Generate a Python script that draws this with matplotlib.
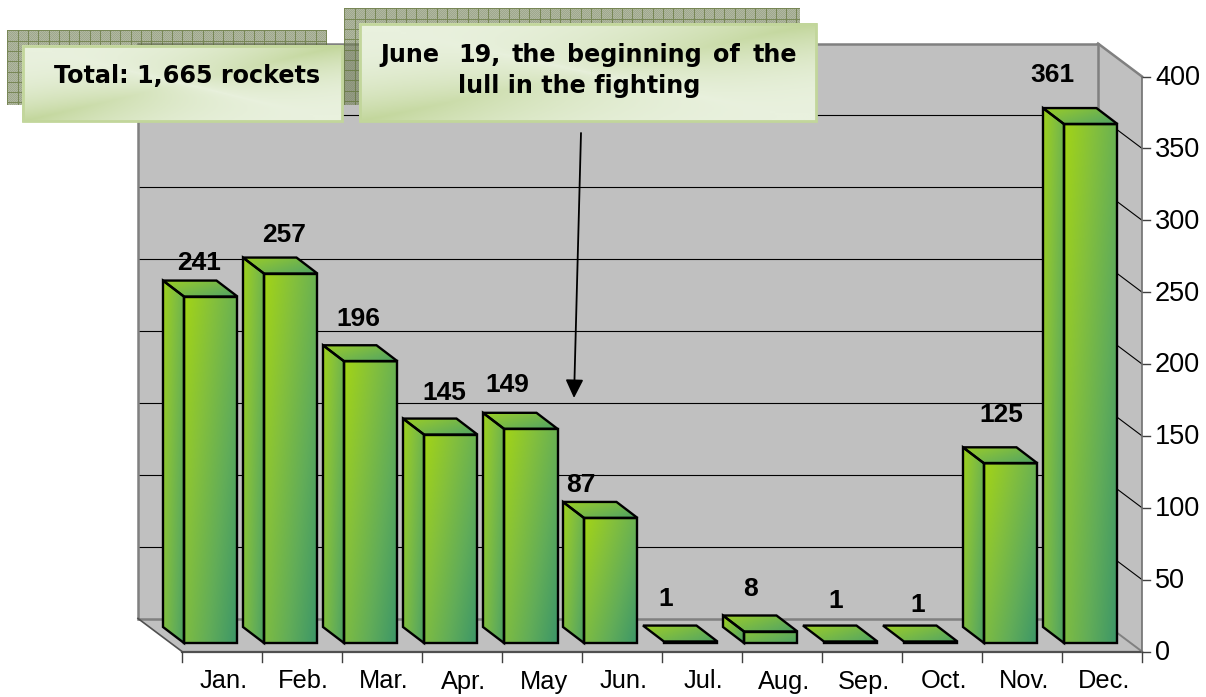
# -*- coding: utf-8 -*-
import numpy as np
import matplotlib
matplotlib.use('Agg')
import matplotlib.pyplot as plt
from matplotlib.colors import LinearSegmentedColormap
from matplotlib.patches import Polygon, Rectangle

months = ['Jan.', 'Feb.', 'Mar.', 'Apr.', 'May', 'Jun.', 'Jul.', 'Aug.', 'Sep.', 'Oct.', 'Nov.', 'Dec.']
rockets = [241, 257, 196, 145, 149, 87, 1, 8, 1, 1, 125, 361]
y_ticks = [0, 50, 100, 150, 200, 250, 300, 350, 400]

# the value labels were moved by hand in the original, so pixel positions
label_x = [199, 284, 358, 444, 507, 581, 666, 751, 836, 918, 1001, 1052]
label_y = [260, 233, 317, 390, 382, 483, 596, 586, 598, 603, 412, 72]

W, H = 1206, 697
X0, Y0 = 182, 651.5      # pixel of category edge 0, value 0
PX_CAT, PX_VAL = 80.0, 1.4375
DX, DY = -44 / PX_CAT, 33 / PX_VAL    # wall depth in data units
BAR_L, BAR_W = 2 / PX_CAT, 53.5 / PX_CAT
BAR_BASE = 8.5 / PX_VAL
BAR_DX, BAR_DY = -21 / PX_CAT, 16 / PX_VAL

plt.rcParams['font.family'] = ['Liberation Sans', 'DejaVu Sans']
fig = plt.figure(figsize=(W / 100, H / 100), dpi=100)
ax = fig.add_axes([0, 0, 1, 1])
ax.axis('off')
xlim = (-X0 / PX_CAT, (W - X0) / PX_CAT)
ylim = ((Y0 - H) / PX_VAL, Y0 / PX_VAL)

bar_cmap = LinearSegmentedColormap.from_list('bar', ['#a2d416', '#84c03c', '#62ad58', '#3c9668'])


def grad_poly(a, pts, cmap, vmin=0.0, vmax=1.0, z=3, lw=1.7):
    pts = np.array(pts)
    x0, x1 = pts[:, 0].min(), pts[:, 0].max()
    y0, y1 = pts[:, 1].min(), pts[:, 1].max()
    u, v = np.meshgrid(np.linspace(0, 1, 64), np.linspace(0, 1, 64))
    im = a.imshow(vmin + (vmax - vmin) * (0.6 * u + 0.4 * v), extent=(x0, x1, y0, y1),
                  origin='upper', aspect='auto', cmap=cmap, vmin=0, vmax=1, zorder=z, interpolation='bilinear')
    p = Polygon(pts, closed=True, fc='none', ec='black', lw=lw, joinstyle='miter', zorder=z + 0.1)
    a.add_patch(p)
    im.set_clip_path(p)


# walls and floor
wall = '#c0c0c0'
edge = '#808080'
x_end = len(months)
ax.add_patch(Polygon([(DX, DY), (x_end + DX, DY), (x_end + DX, 400 + DY), (DX, 400 + DY)],
                     fc=wall, ec='none', zorder=1))
ax.add_patch(Polygon([(DX, DY), (x_end + DX, DY), (x_end, 0), (0, 0)], fc=wall, ec='none', zorder=1))
ax.add_patch(Polygon([(x_end + DX, DY), (x_end + DX, 400 + DY), (x_end, 400), (x_end, 0)], fc=wall, ec='none', zorder=1))

for v in y_ticks:
    col, lw = ('black', 0.8) if 0 < v < 400 else (edge, 1.8)
    ax.plot([DX, x_end + DX], [v + DY, v + DY], color=col, lw=lw, zorder=1.5, solid_capstyle='butt')
    ax.plot([x_end + DX, x_end], [v + DY, v], color=col, lw=lw if v else 1.4, zorder=1.5)
    ax.plot([x_end, x_end + 8 / PX_CAT], [v, v], color='#404040', lw=1, zorder=2)
    ax.text(x_end + 13 / PX_CAT, v + 1.5 / PX_VAL, str(v), fontsize=19.5, color='black',
            ha='left', va='center_baseline', zorder=6)

ax.plot([DX, DX], [DY, 400 + DY], color=edge, lw=1.8, zorder=1.6)
ax.plot([x_end + DX, x_end + DX], [DY, 400 + DY], color=edge, lw=1.8, zorder=1.6)
ax.plot([DX, 0], [DY, 0], color='#505050', lw=1.2, zorder=1.6)
ax.plot([0, x_end], [0, 0], color='#505050', lw=1.6, zorder=2)
ax.plot([x_end, x_end], [0, 400], color='#707070', lw=1.2, zorder=2)

for i, name in enumerate(months):
    ax.plot([i, i], [0, -10 / PX_VAL], color='#404040', lw=1, zorder=2)
    ax.text(i + 0.52, -37 / PX_VAL, name, fontsize=18.3, ha='center', va='baseline', zorder=6)
ax.plot([x_end, x_end], [0, -10 / PX_VAL], color='#404040', lw=1, zorder=2)

# bars, painted from the back edge forwards
for i, val in enumerate(rockets):
    l, r = i + BAR_L, i + BAR_L + BAR_W
    b, t = BAR_BASE, BAR_BASE + val
    side = [(l + BAR_DX, b + BAR_DY), (l, b), (l, t), (l + BAR_DX, t + BAR_DY)]
    top = [(l + BAR_DX, t + BAR_DY), (r + BAR_DX, t + BAR_DY), (r, t), (l, t)]
    front = [(l, b), (r, b), (r, t), (l, t)]
    if val > 1:
        grad_poly(ax, side, bar_cmap, 0.05, 0.85)
    grad_poly(ax, top, bar_cmap, 0.1, 0.85)
    if val > 1:
        grad_poly(ax, front, bar_cmap, 0.0 if val > 20 else 0.3, 1.0 if val > 20 else 0.85)
    else:
        ax.add_patch(Rectangle((l, b), BAR_W, val, fc='black', ec='black', lw=1.7, zorder=3.2))

ax.set_xlim(xlim)
ax.set_ylim(ylim)

# overlay in pixels for the callouts, arrow and hand placed labels
ov = fig.add_axes([0, 0, 1, 1], facecolor='none')
ov.axis('off')


def pattern_panel(x0, y0, x1, y1):
    w, h = x1 - x0, y1 - y0
    yy, xx = np.mgrid[0:h, 0:w]
    rgb = np.zeros((h, w, 4))
    rgb[..., 0] = 0.45
    rgb[..., 1] = 0.50
    rgb[..., 2] = 0.34
    rgb[..., 3] = np.where((xx + yy) % 2 == 0, 0.56, 0.68)
    rgb[(xx % 10.27) < 1.0] = (0.38, 0.45, 0.22, 0.85)
    rgb[(yy % 10.27) < 1.0] = (0.38, 0.45, 0.22, 0.85)
    ov.imshow(rgb, extent=(x0, x1, y1, y0), aspect='auto', interpolation='nearest', zorder=1)


def callout(x0, y0, x1, y1):
    u, v = np.meshgrid(np.linspace(0, 1, 200), np.linspace(0, 1, 80))
    light = 1 - (1 - np.abs(u + v - 1)) ** 2 * np.abs(u - v) ** 0.5
    cmap = LinearSegmentedColormap.from_list('box', ['#c2d69b', '#e9f1de'])
    ov.imshow(light, extent=(x0, x1, y1, y0), aspect='auto', cmap=cmap, vmin=0, vmax=1, zorder=2)
    ov.add_patch(Rectangle((x0 + 1, y0 + 1), x1 - x0 - 2, y1 - y0 - 2, fc='none', ec='#c2d69b', lw=2, zorder=2.1))


pattern_panel(7, 30, 327, 105)
pattern_panel(344, 8, 800, 105)
callout(22, 45, 343, 122)
callout(359, 23, 817, 122)

bold = dict(family=['DejaVu Sans'], fontweight='bold', fontsize=17.2, color='black', zorder=3, va='baseline')
ov.text(54, 83, 'Total: 1,665 rockets', ha='left', **bold)
for word, wx in zip(['June', '19,', 'the', 'beginning', 'of', 'the'], [380, 458, 512, 567, 713, 753]):
    ov.text(wx, 62, word, ha='left', **bold)
ov.text(579.5, 93, 'lull in the fighting', ha='center', **bold)

ov.annotate('', xy=(574, 398), xytext=(581, 133), zorder=3,
            arrowprops=dict(arrowstyle='-|>,head_width=0.3,head_length=0.62', color='black', lw=1.3,
                            shrinkA=0, shrinkB=0, mutation_scale=18))

for s, lx, ly in zip(rockets, label_x, label_y):
    ov.text(lx, ly, str(s), fontsize=19, fontweight='bold', ha='center', va='center_baseline', zorder=3)

ov.set_xlim(0, W)
ov.set_ylim(H, 0)

fig.savefig('out.png', dpi=100)
